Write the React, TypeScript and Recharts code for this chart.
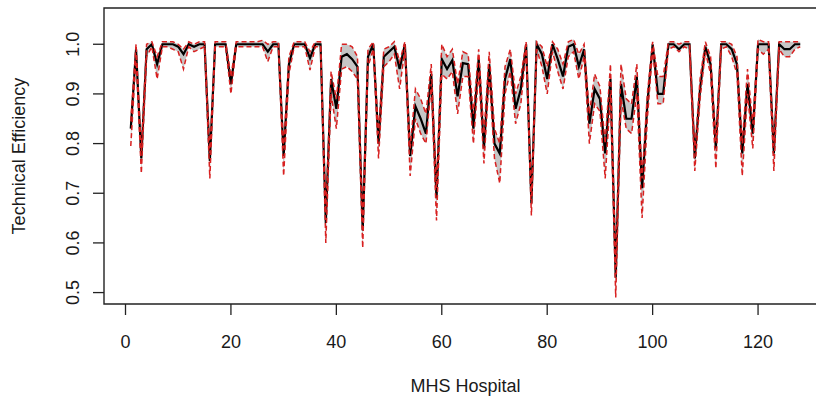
import { ComposedChart, Line, Area, XAxis, YAxis, ReferenceArea, Label } from 'recharts'

// technical efficiency per hospital (1..128)
const efficiency = [
  0.83, 0.99, 0.77, 0.99, 1.0, 0.96, 1.0, 1.0, 1.0, 0.995,
  0.98, 1.0, 0.995, 1.0, 1.0, 0.765, 1.0, 1.0, 1.0, 0.92,
  1.0, 1.0, 1.0, 1.0, 1.0, 1.0, 0.985, 1.0, 1.0, 0.775,
  0.96, 1.0, 1.0, 1.0, 0.972, 1.0, 1.0, 0.64, 0.93, 0.87,
  0.975, 0.98, 0.97, 0.955, 0.625, 0.975, 1.0, 0.8, 0.975, 0.985,
  0.995, 0.95, 1.0, 0.775, 0.875, 0.85, 0.82, 0.94, 0.69, 0.97,
  0.95, 0.968, 0.895, 0.962, 0.96, 0.83, 0.97, 0.79, 0.96, 0.8,
  0.78, 0.93, 0.97, 0.87, 0.91, 1.0, 0.68, 1.0, 0.98, 0.93,
  1.0, 0.97, 0.935, 0.995, 1.0, 0.955, 0.99, 0.84, 0.91, 0.89,
  0.78, 0.93, 0.53, 0.92, 0.85, 0.85, 0.935, 0.71, 0.88, 1.0,
  0.9, 0.9, 1.0, 1.0, 0.99, 1.0, 1.0, 0.77, 0.91, 0.995,
  0.96, 0.79, 1.0, 1.0, 0.99, 0.96, 0.78, 0.92, 0.82, 1.0,
  1.0, 1.0, 0.78, 1.0, 0.99, 0.99, 1.0, 1.0,
]

const lowerBound = [
  0.795, 0.975, 0.74, 0.975, 0.995, 0.93, 0.995, 0.995, 0.99, 0.985,
  0.95, 0.995, 0.985, 0.99, 0.995, 0.73, 0.995, 0.995, 0.995, 0.9,
  0.995, 0.995, 0.995, 0.995, 0.995, 0.995, 0.965, 0.995, 0.995, 0.735,
  0.94, 0.995, 0.995, 0.995, 0.948, 0.995, 0.995, 0.6, 0.9, 0.83,
  0.95, 0.955, 0.945, 0.93, 0.59, 0.955, 0.99, 0.77, 0.955, 0.965,
  0.98, 0.91, 0.99, 0.735, 0.85, 0.82, 0.8, 0.92, 0.645, 0.94,
  0.93, 0.945, 0.86, 0.935, 0.935, 0.8, 0.945, 0.76, 0.935, 0.77,
  0.72, 0.9, 0.945, 0.84, 0.88, 0.99, 0.655, 0.99, 0.955, 0.9,
  0.985, 0.945, 0.91, 0.975, 0.985, 0.93, 0.975, 0.8, 0.88, 0.865,
  0.73, 0.9, 0.49, 0.89, 0.83, 0.82, 0.9, 0.65, 0.85, 0.99,
  0.88, 0.88, 0.99, 0.995, 0.985, 0.995, 0.99, 0.745, 0.89, 0.985,
  0.94, 0.75, 0.99, 0.995, 0.975, 0.94, 0.735, 0.9, 0.79, 0.99,
  0.98, 0.99, 0.745, 0.99, 0.975, 0.975, 0.99, 0.995,
]

const upperBound = [
  0.845, 1.0, 0.785, 1.0, 1.005, 0.975, 1.005, 1.005, 1.005, 1.0,
  0.99, 1.005, 1.0, 1.005, 1.005, 0.78, 1.005, 1.005, 1.005, 0.935,
  1.005, 1.005, 1.005, 1.005, 1.005, 1.008, 1.0, 1.005, 1.005, 0.79,
  0.975, 1.005, 1.005, 1.005, 0.985, 1.005, 1.005, 0.66, 0.945, 0.89,
  1.0, 1.0, 0.995, 0.975, 0.645, 0.99, 1.005, 0.82, 0.99, 0.995,
  1.005, 0.965, 1.005, 0.79, 0.91, 0.89, 0.86, 0.96, 0.71, 1.0,
  0.975, 0.99, 0.92, 0.985, 0.98, 0.86, 0.99, 0.82, 0.985, 0.83,
  0.8, 0.955, 0.99, 0.9, 0.935, 1.005, 0.695, 1.005, 0.995, 0.955,
  1.005, 0.99, 0.96, 1.005, 1.01, 0.98, 1.0, 0.86, 0.94, 0.915,
  0.8, 0.96, 0.55, 0.96, 0.89, 0.88, 0.96, 0.73, 0.9, 1.005,
  0.935, 0.935, 1.005, 1.005, 1.0, 1.005, 1.005, 0.785, 0.93, 1.005,
  0.975, 0.805, 1.005, 1.005, 1.0, 0.975, 0.8, 0.95, 0.84, 1.01,
  1.005, 1.005, 0.795, 1.005, 1.005, 1.005, 1.005, 1.005,
]

const xTicks = [0, 20, 40, 60, 80, 100, 120]
const yTicks = [0.5, 0.6, 0.7, 0.8, 0.9, 1.0]

const font = 'Liberation Sans, Arial, sans-serif'
const textColor = '#1a1a1a'

const rows = efficiency.map((v, k) => ({
  hospital: k + 1,
  te: v,
  lo: lowerBound[k],
  hi: upperBound[k],
  band: [lowerBound[k], upperBound[k]],
}))

// R puts the y tick labels parallel to the axis
function YTick(props: any) {
  const { x, y, payload } = props
  return (
    <text
      x={x}
      y={y}
      transform={`rotate(-90 ${x} ${y})`}
      textAnchor="middle"
      fontSize={18}
      fontFamily={font}
      fill={textColor}
    >
      {Number(payload.value).toFixed(1)}
    </text>
  )
}

function YTitle(props: any) {
  const { viewBox } = props
  const cx = viewBox.x + 19
  const cy = viewBox.y + viewBox.height / 2
  return (
    <text
      x={cx}
      y={cy}
      transform={`rotate(-90 ${cx} ${cy})`}
      textAnchor="middle"
      dominantBaseline="central"
      fontSize={18}
      fontFamily={font}
      fill={textColor}
    >
      Technical Efficiency
    </text>
  )
}

export default function App() {
  return (
    <div
      style={{
        position: 'absolute',
        left: 0,
        top: 0,
        width: 816,
        height: 405,
        overflow: 'hidden',
        background: '#fff',
      }}
    >
      <ComposedChart
        width={830}
        height={405}
        data={rows}
        margin={{ top: 8, right: 3, bottom: 0, left: 0 }}
      >
        <XAxis
          dataKey="hospital"
          type="number"
          domain={[-4.08, 133.08]}
          ticks={xTicks}
          interval={0}
          allowDataOverflow
          axisLine={false}
          tickLine={{ stroke: '#222', strokeWidth: 1.3 }}
          tickSize={11}
          tickMargin={20}
          height={101}
          tick={{ fontSize: 18, fontFamily: font, fill: textColor }}
        >
          <Label
            value="MHS Hospital"
            position="insideBottom"
            offset={13}
            style={{ fontSize: 18, fontFamily: font, fill: textColor }}
          />
        </XAxis>
        <YAxis
          type="number"
          domain={[0.477, 1.073]}
          ticks={yTicks}
          interval={0}
          allowDataOverflow
          axisLine={false}
          tickLine={{ stroke: '#222', strokeWidth: 1.3 }}
          tickSize={11}
          tickMargin={14}
          width={104}
          tick={<YTick />}
        >
          <Label content={<YTitle />} />
        </YAxis>
        <Area
          type="linear"
          dataKey="band"
          fill="#c6c6c6"
          fillOpacity={1}
          stroke="none"
          isAnimationActive={false}
        />
        <Line
          type="linear"
          dataKey="te"
          stroke="#000"
          strokeWidth={2.2}
          dot={false}
          isAnimationActive={false}
        />
        <Line
          type="linear"
          dataKey="lo"
          stroke="#d82020"
          strokeWidth={1.5}
          strokeDasharray="5 3"
          dot={false}
          isAnimationActive={false}
        />
        <Line
          type="linear"
          dataKey="hi"
          stroke="#d82020"
          strokeWidth={1.5}
          strokeDasharray="5 3"
          dot={false}
          isAnimationActive={false}
        />
        <ReferenceArea
          x1={-4.08}
          x2={133.08}
          y1={0.477}
          y2={1.073}
          fill="none"
          stroke="#222"
          strokeWidth={1.4}
          ifOverflow="visible"
        />
      </ComposedChart>
    </div>
  )
}
